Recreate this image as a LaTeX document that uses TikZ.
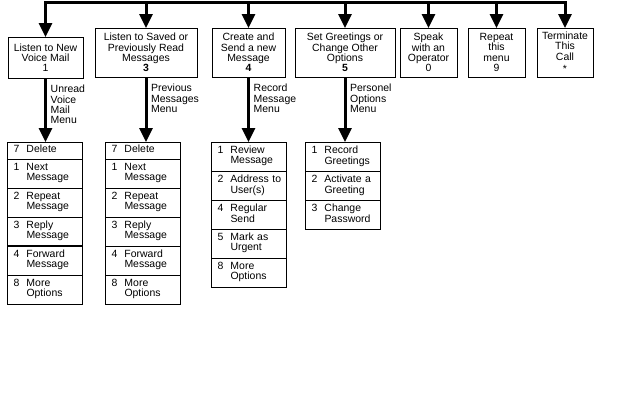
\documentclass[tikz,border=0pt]{standalone}
\usepackage{fontspec}
\setmainfont{Liberation Sans}
\usetikzlibrary{positioning,arrows.meta}

\newcommand{\menufont}{\fontsize{10.5}{10.3}\selectfont}
\newcommand{\opt}[2]{\makebox[13bp][l]{#1}\begin{tabular}[t]{@{}l@{}}#2\end{tabular}}

\begin{document}
\begin{tikzpicture}[x=1bp, y=-1bp,
    every node/.style={font=\menufont},
    menubox/.style={draw, line width=0.8bp, align=center, inner sep=0pt, outer sep=0pt, minimum height=49bp},
    optrow/.style={draw, line width=0.8bp, align=left, text width=63bp, inner xsep=6bp, inner ysep=0pt, outer sep=0pt, minimum height=29bp},
    onerow/.style={optrow, minimum height=17bp},
    bus/.style={line width=3.5bp, line cap=rect},
    flow/.style={line width=3bp, -{Triangle[length=14bp, width=13bp]}},
    note/.style={align=left, anchor=north west, inner sep=0pt}]

    \useasboundingbox (0,0) rectangle (624,400);

    % Main menu
    \node[menubox, minimum width=75bp, minimum height=41bp] (new) at (45.5,57.5) {Listen to New\\Voice Mail\\1};
    \node[menubox, minimum width=102bp] (saved) at (146,52.5) {Listen to Saved or\\Previously Read\\Messages\\\textbf{3}};
    \node[menubox, minimum width=73bp] (create) at (248.5,52.5) {Create and\\Send a new\\Message\\\textbf{4}};
    \node[menubox, minimum width=100bp] (greet) at (345,52.5) {Set Greetings or\\Change Other\\Options\\\textbf{5}};
    \node[menubox, minimum width=57bp] (oper) at (428.5,52.5) {Speak\\with an\\Operator\\0};
    \node[menubox, minimum width=57bp] (again) at (496.5,52.5) {Repeat\\this\\menu\\9};
    \node[menubox, minimum width=56bp] (quit) at (565,52.5) {Terminate\\This\\Call\\\raisebox{-0.25em}{*}};

    % Bus with the drops
    \coordinate (b1) at (new.north |- 0,2.5);
    \coordinate (b2) at (saved.north |- 0,2.5);
    \coordinate (b3) at (create.north |- 0,2.5);
    \coordinate (b4) at (greet.north |- 0,2.5);
    \coordinate (b5) at (oper.north |- 0,2.5);
    \coordinate (b6) at (again.north |- 0,2.5);
    \coordinate (b7) at (quit.north |- 0,2.5);
    \draw[bus] (b1) -- (b7);
    \draw[flow] (b1) -- (new);
    \draw[flow] (b2) -- (saved);
    \draw[flow] (b3) -- (create);
    \draw[flow] (b4) -- (greet);
    \draw[flow] (b5) -- (oper);
    \draw[flow] (b6) -- (again);
    \draw[flow] (b7) -- (quit);

    % Unread voice mail menu
    \node[onerow] (l1a) at (45,150.5) {\opt{7}{Delete}};
    \node[optrow, below=0pt of l1a] (l1b) {\opt{1}{Next\\Message}};
    \node[optrow, below=0pt of l1b] (l1c) {\opt{2}{Repeat\\Message}};
    \node[optrow, below=0pt of l1c] (l1d) {\opt{3}{Reply\\Message}};
    \node[optrow, below=0pt of l1d] (l1e) {\opt{4}{Forward\\Message}};
    \node[optrow, below=0pt of l1e] (l1f) {\opt{8}{More\\Options}};
    \draw[line width=1.8bp] (l1d.south west) -- (l1d.south east);
    \draw[flow] (new) -- (new |- l1a.north);
    \node[note] (n1) at ([xshift=5bp, yshift=-7bp]new.south) {Unread\\Voice\\Mail\\Menu};

    % Previous messages menu
    \node[onerow] (l2a) at (143,150.5) {\opt{7}{Delete}};
    \node[optrow, below=0pt of l2a] (l2b) {\opt{1}{Next\\Message}};
    \node[optrow, below=0pt of l2b] (l2c) {\opt{2}{Repeat\\Message}};
    \node[optrow, below=0pt of l2c] (l2d) {\opt{3}{Reply\\Message}};
    \node[optrow, below=0pt of l2d] (l2e) {\opt{4}{Forward\\Message}};
    \node[optrow, below=0pt of l2e] (l2f) {\opt{8}{More\\Options}};
    \draw[flow] (saved) -- (saved |- l2a.north);
    \node[note] (n2) at ([xshift=5bp, yshift=-7bp]saved.south) {Previous\\Messages\\Menu};

    % Record message menu
    \node[optrow] (l3a) at (249,156.5) {\opt{1}{Review\\Message}};
    \node[optrow, below=0pt of l3a] (l3b) {\opt{2}{Address to\\User(s)}};
    \node[optrow, below=0pt of l3b] (l3c) {\opt{4}{Regular\\Send}};
    \node[optrow, below=0pt of l3c] (l3d) {\opt{5}{Mark as\\Urgent}};
    \node[optrow, below=0pt of l3d] (l3e) {\opt{8}{More\\Options}};
    \draw[flow] (create) -- (create |- l3a.north);
    \node[note] (n3) at ([xshift=5bp, yshift=-7bp]create.south) {Record\\Message\\Menu};

    % Personel options menu
    \node[optrow] (l4a) at (343,156.5) {\opt{1}{Record\\Greetings}};
    \node[optrow, below=0pt of l4a] (l4b) {\opt{2}{Activate a\\Greeting}};
    \node[optrow, below=0pt of l4b] (l4c) {\opt{3}{Change\\Password}};
    \draw[flow] (greet) -- (greet |- l4a.north);
    \node[note] (n4) at ([xshift=5bp, yshift=-7bp]greet.south) {Personel\\Options\\Menu};
\end{tikzpicture}
\end{document}
